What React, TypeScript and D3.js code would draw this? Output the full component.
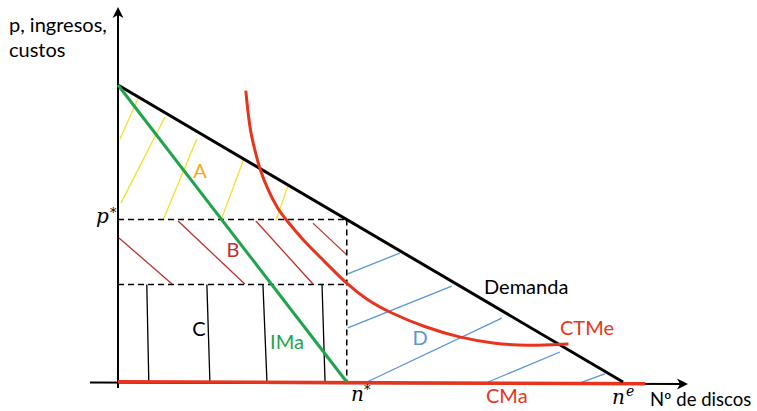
import React from 'react';
import * as d3 from 'd3';

const W = 757, H = 411;

// data space: quantity 0..100 (n^e = 100), price 0..100 (demand intercept = 100)
const demandLine: [number, number][] = [[0, 100], [100, 0]];
const imaLine: [number, number][] = [[0, 100], [45.3, 0]];
const cmaLine: [number, number][] = [[0, 0.1], [104.4, -0.6]];
const ctmeQ = [25.3, 26.1, 27.1, 28.1, 29.7, 31.5, 33.3, 36.6, 40.6, 45.3, 49.3, 53.9, 60.5, 67.7, 74.3, 80.9, 89.2];
const ctmeP = [98.1, 84.9, 78.1, 71.4, 64.7, 58.6, 54.6, 47.8, 41.1, 33.0, 27.6, 23.3, 18.6, 14.9, 13.0, 12.1, 12.8];
const nStar = 45.3;
const pStar = 54.7;
const ctmeAtNStar = 32.8;

// hatch segments [q1, p1, q2, p2]
const hatchA = [
  [0.4, 81.8, 4.0, 95.6],
  [0.6, 60.3, 9.3, 89.2],
  [8.9, 54.5, 15.6, 81.8],
  [20.4, 54.5, 25.0, 75.4],
  [31.3, 54.5, 33.7, 66.3],
];
const hatchB = [
  [0.2, 48.5, 10.7, 33.0],
  [11.9, 54.2, 25.1, 33.0],
  [27.3, 54.2, 38.6, 33.0],
  [38.6, 53.5, 45.3, 42.8],
];
const hatchC = [
  [5.7, 32.8, 6.1, 0],
  [17.6, 32.8, 18.2, 0],
  [28.7, 32.8, 29.5, 0],
  [40.4, 32.8, 41.0, 0],
];
const hatchD = [
  [45.5, 36.4, 55.8, 43.4],
  [45.5, 18.2, 66.1, 32.3],
  [49.3, 0, 76.0, 21.5],
  [73.3, 0, 87.5, 10.1],
  [91.5, -0.3, 96.4, 2.7],
];

const x = d3.scaleLinear().domain([0, 100]).range([118, 623]);
const y = d3.scaleLinear().domain([0, 100]).range([382, 85]);

const line = d3.line<[number, number]>().x(d => x(d[0])).y(d => y(d[1]));
const curve = d3.line<[number, number]>().x(d => x(d[0])).y(d => y(d[1])).curve(d3.curveBasis);

const FONT = 'Lato, "Open Sans", sans-serif';
const MATH = '"DejaVu Serif", "Liberation Serif", serif';

const YELLOW = '#F2E02E';
const DARKRED = '#C0302A';
const BLUE = '#5B95D6';
const GREEN = '#1FA34C';
const RED = '#E8341C';

function Hatch({ segs, color, w }: { segs: number[][]; color: string; w: number }) {
  return (
    <g stroke={color} strokeWidth={w} fill="none">
      {segs.map((s, i) => (
        <line key={i} x1={x(s[0])} y1={y(s[1])} x2={x(s[2])} y2={y(s[3])} />
      ))}
    </g>
  );
}

export default function App() {
  const ctme = ctmeQ.map((q, i) => [q, ctmeP[i]] as [number, number]);
  const xAxisY = y(0) + 1;
  return (
    <svg width={W} height={H} style={{ position: 'absolute', left: 0, top: 0 }}>
      <rect width={W} height={H} fill="#fff" />
      {/* hatches */}
      <Hatch segs={hatchA} color={YELLOW} w={1.3} />
      <Hatch segs={hatchB} color={DARKRED} w={1.3} />
      <Hatch segs={hatchC} color="#000" w={1.3} />
      <Hatch segs={hatchD} color={BLUE} w={1.3} />

      {/* dashed guides */}
      <g stroke="#000" strokeWidth={1.5} strokeDasharray="6,4" fill="none">
        <line x1={x(0)} y1={y(pStar)} x2={x(nStar)} y2={y(pStar)} />
        <line x1={x(0)} y1={y(ctmeAtNStar)} x2={x(nStar)} y2={y(ctmeAtNStar)} />
        <line x1={x(nStar)} y1={y(pStar)} x2={x(nStar)} y2={y(0)} />
      </g>

      {/* axes */}
      <g stroke="#000" strokeWidth={2} fill="none">
        <line x1={x(0)} y1={388} x2={x(0)} y2={12} />
        <line x1={90} y1={xAxisY - 0.5} x2={683} y2={xAxisY + 1} />
      </g>
      <path d={`M ${x(0)} 7 L ${x(0) + 5.5} 18 L ${x(0)} 15 L ${x(0) - 5.5} 18 Z`} fill="#000" />
      <path d={`M 688 ${xAxisY + 1} L 677 ${xAxisY - 4.5} L 680 ${xAxisY + 1} L 677 ${xAxisY + 6.5} Z`} fill="#000" />

      {/* curves */}
      <path d={line(cmaLine) || ''} stroke={RED} strokeWidth={3.5} fill="none" />
      <path d={line(demandLine) || ''} stroke="#000" strokeWidth={3} fill="none" />
      <path d={line(imaLine) || ''} stroke={GREEN} strokeWidth={3} fill="none" />
      <path d={curve(ctme) || ''} stroke={RED} strokeWidth={3} fill="none" />

      {/* labels */}
      <g fontFamily={FONT} fontSize={20}>
        <text x={9} y={32} fill="#000">p, ingresos,</text>
        <text x={9} y={57} fill="#000">custos</text>
        <text x={200} y={178} fill="#F4A81D" textAnchor="middle">A</text>
        <text x={233} y={257} fill={DARKRED} textAnchor="middle">B</text>
        <text x={199} y={336} fill="#000" textAnchor="middle">C</text>
        <text x={287} y={349} fill={GREEN} textAnchor="middle">IMa</text>
        <text x={420} y={345} fill={BLUE} textAnchor="middle">D</text>
        <text x={484} y={294} fill="#000">Demanda</text>
        <text x={560} y={335} fill={RED}>CTMe</text>
        <text x={486} y={403} fill={RED}>CMa</text>
        <text x={650} y={406} fill="#000" fontSize={18.5}>Nº de discos</text>
      </g>
      <g fontFamily={MATH} fontStyle="italic" fill="#000">
        <text x={96} y={223} fontSize={20}>p</text>
        <text x={110} y={217} fontSize={13}>*</text>
        <text x={351} y={401} fontSize={20}>n</text>
        <text x={364} y={394} fontSize={13}>*</text>
        <text x={612} y={404} fontSize={20}>n</text>
        <text x={626} y={396} fontSize={14}>e</text>
      </g>
    </svg>
  );
}
